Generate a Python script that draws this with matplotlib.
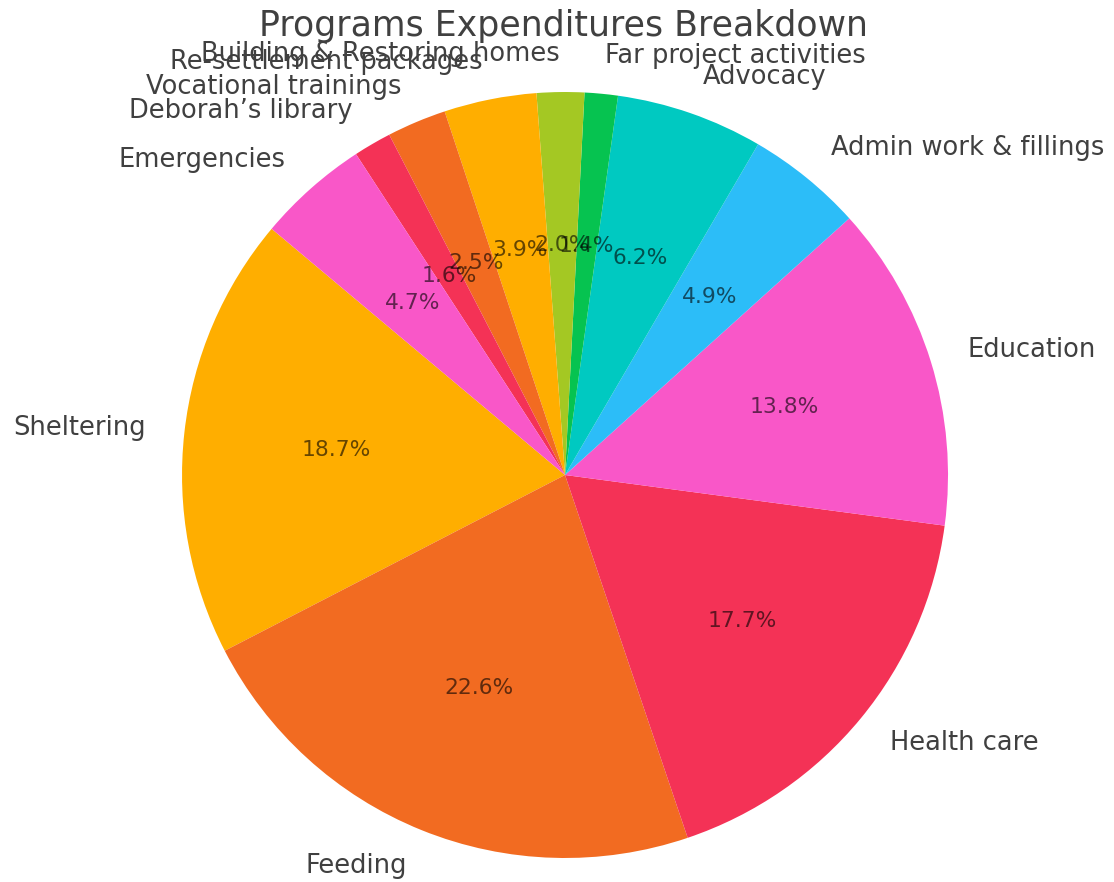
import matplotlib
matplotlib.use("Agg")
import matplotlib.pyplot as plt

# Programs expenditure shares (percent), counterclockwise from Sheltering
labels = [
    "Sheltering", "Feeding", "Health care", "Education",
    "Admin work & fillings", "Advocacy", "Far project activities",
    "Building & Restoring homes", "Re-settlement packages",
    "Vocational trainings", "Deborah\u2019s library", "Emergencies",
]
shares = [18.7, 22.6, 17.7, 13.8, 4.9, 6.2, 1.4, 2.0, 3.9, 2.5, 1.6, 4.7]

palette = ["#FFAE00", "#F26B21", "#F43256", "#F957C8",
           "#2CBDF8", "#00C9C1", "#06C350", "#A4C823"]
colors = [palette[i % len(palette)] for i in range(len(shares))]

fig = plt.figure(figsize=(11.14, 8.82), dpi=100)
ax = fig.add_axes([0.1634, 0.0272, 0.6876, 0.8685])

wedges, texts, autotexts = ax.pie(
    shares, labels=labels, colors=colors, autopct="%1.1f%%",
    startangle=140, labeldistance=1.1, pctdistance=0.6,
    textprops={"fontsize": 18.5, "color": "#404040"},
)
for t in autotexts:
    t.set_fontsize(15.7)
    t.set_color((0, 0, 0, 0.6))

ax.set_xlim(-1, 1)
ax.set_ylim(-1, 1)
ax.set_aspect("equal")

fig.text(0.506, 1 - 36 / 882, "Programs Expenditures Breakdown",
         ha="center", va="baseline", fontsize=25, color="#404040")

fig.savefig("out.png", dpi=100)
